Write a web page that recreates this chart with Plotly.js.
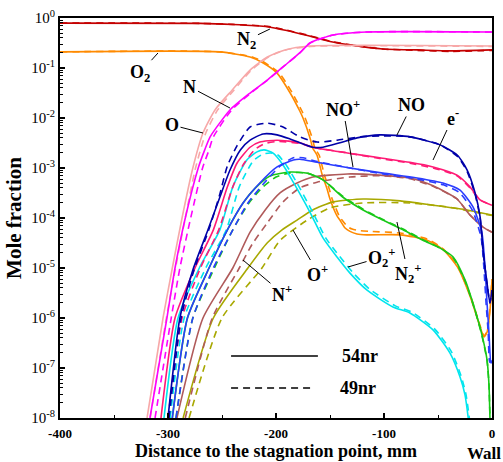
<!DOCTYPE html>
<html><head><meta charset="utf-8">
<script src="https://cdn.plot.ly/plotly-3.0.1.min.js"></script>
<style>html,body{margin:0;padding:0;background:#fff}#chart{width:503px;height:462px}</style>
</head><body><div id="chart"></div>
<script>
// ---- tick labels ----
const xTickVals = [-400, -300, -200, -100, 0];
const xTickText = ['-400', '-300', '-200', '-100', '0'];
const yTickVals = [1e-8, 1e-7, 1e-6, 1e-5, 1e-4, 1e-3, 1e-2, 1e-1, 1];
const yTickText = ['10<sup>-8</sup>','10<sup>-7</sup>','10<sup>-6</sup>','10<sup>-5</sup>','10<sup>-4</sup>','10<sup>-3</sup>','10<sup>-2</sup>','10<sup>-1</sup>','10<sup>0</sup>'];

// ---- N2 ----
const xN2_54 = [-400,-270,-240,-208,-190,-170,-150,-131.5,-101,-69,-39,0];
const yN2_54 = [0.79,0.78,0.74,0.67,0.56,0.44,0.34,0.29,0.24,0.23,0.22,0.23];
const xN2_49 = [-400,-270,-240,-208,-190,-170,-150,-131.5,-101,-69,-39,0];
const yN2_49 = [0.79,0.78,0.745,0.68,0.57,0.45,0.345,0.29,0.24,0.225,0.215,0.225];
// ---- O2 ----
const xO2_54 = [-400,-252,-224,-213,-199,-187,-178,-175,-168.5,-166,-162,-157,-153,-150,-143.5,-140.7,-136,-131.5,-125,-116,-85,-60,-45,-32,-20,-11,-7.4,-4.6,-1.9,0];
const yO2_54 = [0.21,0.21,0.166,0.13,0.079,0.032,0.0138,0.01,4e-3,2.5e-3,1.8e-3,7e-4,4e-4,2.4e-4,1.1e-4,9e-5,6.3e-5,5.4e-5,4.8e-5,4.6e-5,4.6e-5,3.6e-5,2.3e-5,1.05e-5,2.6e-6,6.6e-7,4.2e-7,5.2e-7,1.4e-6,5.8e-6];
const xO2_49 = [-400,-252,-222,-211,-197,-185,-176,-173,-166.5,-164,-160,-155,-151,-148,-141.5,-138.7,-134,-129.5,-123,-114,-85,-60,-45,-32,-20,-11,-7.4,-4.6,-1.9,0];
const yO2_49 = [0.21,0.21,0.166,0.13,0.079,0.032,0.0138,0.01,4e-3,2.5e-3,1.8e-3,7e-4,4e-4,2.4e-4,1.1e-4,9e-5,6.8e-5,6.0e-5,5.6e-5,5.4e-5,5.0e-5,3.8e-5,2.4e-5,1.1e-5,2.8e-6,7e-7,4.4e-7,5.5e-7,1.5e-6,6e-6];
// ---- N ----
const xN_54 = [-316.7,-301,-293.5,-284,-272,-266,-261,-242.6,-224,-208,-193.5,-178,-168.5,-147,-116,0];
const yN_54 = [1e-8,1e-6,1e-5,1e-4,1e-3,2.3e-3,4.2e-3,0.0145,0.0316,0.0575,0.105,0.2,0.316,0.457,0.525,0.525];
const xN_49 = [-312,-297,-289,-279,-268,-262,-258,-241,-223,-208,-193.5,-178,-168.5,-147,-116,0];
const yN_49 = [1e-8,1e-6,1e-5,1e-4,1e-3,2.3e-3,4.2e-3,0.0145,0.032,0.057,0.105,0.2,0.316,0.457,0.525,0.525];
// ---- O ----
const xO_54 = [-319.4,-304.6,-296,-287,-277,-267.6,-256.5,-240.7,-224,-208,-191.7,-168.5,0];
const yO_54 = [1e-8,1e-6,1e-5,1e-4,1e-3,5e-3,0.0145,0.036,0.091,0.166,0.23,0.275,0.275];
const xO_49 = [-316.5,-301.5,-293,-284,-274.5,-265,-254,-239,-223,-207,-191,-168,0];
const yO_49 = [1e-8,1e-6,1e-5,1e-4,1e-3,5e-3,0.0145,0.036,0.09,0.165,0.23,0.27,0.27];
// ---- NO ----
const xNO_54 = [-300,-289,-277,-263,-252,-242.6,-233,-224,-212,-199,-187,-178,-166,-156.5,-140.7,-125,-103.7,-76,-48,-32,-23,-15.7,-11,-8.3,-4.6,-1.9,0];
const yNO_54 = [1e-8,1e-6,9.1e-6,5.8e-5,2.6e-4,9.1e-4,2.3e-3,3.6e-3,4.8e-3,4.6e-3,3.8e-3,3.2e-3,2.6e-3,2.6e-3,3.2e-3,4.0e-3,4.6e-3,4.2e-3,2.9e-3,1.8e-3,9.1e-4,3.2e-4,1.05e-4,2.3e-5,5e-6,2e-6,3.6e-6];
const xNO_49 = [-299,-287.9,-276,-262,-252,-245,-236,-224,-208,-193.5,-178,-162,-143.5,-122,-101,-76,-48,-32,-23,-15.7,-11,-8.3,-4.6,-1.9,0];
const yNO_49 = [1e-8,1e-6,9e-6,6e-5,3e-4,1.1e-3,2.8e-3,6.6e-3,7.9e-3,6.6e-3,4.2e-3,3.3e-3,3.6e-3,4.2e-3,4.4e-3,4.2e-3,2.9e-3,1.7e-3,8.5e-4,3e-4,1e-4,2.2e-5,4.8e-6,2e-6,3.6e-6];
// ---- e- ----
const xE_54 = [-306.5,-293.5,-275,-258,-245,-236,-224,-215,-199,-178,-166,-134,-104,-76,-54.6,-32.4,-20.4,-11,0];
const yE_54 = [1e-8,1e-6,1e-5,5.8e-5,4.2e-4,1.26e-3,2.6e-3,3.3e-3,3.6e-3,3.2e-3,2.6e-3,2.0e-3,1.6e-3,1.3e-3,1.05e-3,7.2e-4,4.2e-4,2.3e-4,1.8e-4];
const xE_49 = [-300,-287,-270,-253,-240,-230,-219,-210,-197,-178,-166,-134,-104,-76,-54.6,-32.4,-20.4,-11,0];
const yE_49 = [1e-8,1e-6,1e-5,5.8e-5,4.2e-4,1.2e-3,2.4e-3,3.1e-3,3.4e-3,3.1e-3,2.6e-3,2.0e-3,1.55e-3,1.25e-3,1.0e-3,7.0e-4,4.0e-4,2.3e-4,1.8e-4];
// ---- O2+ ----
const xO2p_54 = [-303.7,-290.7,-271,-252,-240,-227,-217.6,-211,-203,-193.5,-184,-168.5,-156.5,-143.5,-131.5,-115.7,-91.7,-76,-54.6,-39,-29.6,-25,-22];
const yO2p_54 = [1e-8,1e-6,1e-5,5.8e-5,4.2e-4,1.45e-3,2.1e-3,2.3e-3,2.0e-3,1.15e-3,5.2e-4,1.3e-4,4.0e-5,1.66e-5,7.9e-6,3.6e-6,1.66e-6,1.26e-6,5.8e-7,2.0e-7,6.6e-8,2.9e-8,1e-8];
const xO2p_49 = [-298,-285,-265,-246,-234,-221,-212,-205,-198,-190,-181,-166,-154,-141,-129,-113.5,-89.5,-74,-53,-37.5,-28.5,-24,-21];
const yO2p_49 = [1e-8,1e-6,1e-5,5.8e-5,4.2e-4,1.4e-3,1.9e-3,2.0e-3,1.8e-3,1.1e-3,5.2e-4,1.3e-4,4.0e-5,1.7e-5,8.2e-6,3.8e-6,1.75e-6,1.3e-6,6e-7,2.1e-7,6.8e-8,2.9e-8,1e-8];
// ---- NO+ ----
const xNOp_54 = [-296,-282,-262,-245,-230.5,-215,-199,-184,-178,-162,-131.5,-101,-69.4,-45.4,-29.6,-17.6,-9.3,-6.5,-4.6,-2.8,-0.9,0];
const yNOp_54 = [1e-8,1e-6,1e-5,5.8e-5,2.0e-4,5.0e-4,1.05e-3,1.45e-3,1.5e-3,1.3e-3,1.0e-3,7.9e-4,6.3e-4,5.0e-4,3.6e-4,1.66e-4,5e-5,1.05e-5,2e-6,5e-7,1.26e-7,1.3e-7];
const xNOp_49 = [-292.6,-277,-258,-240,-226,-211,-196,-184,-175,-162,-131.5,-101,-69,-45,-30,-18,-10,-7.5,-5.5,-3.5,-2,0];
const yNOp_49 = [1e-8,1e-6,1e-5,5.8e-5,2.0e-4,5.0e-4,1.1e-3,1.6e-3,1.6e-3,1.35e-3,1.0e-3,7.6e-4,6.0e-4,4.6e-4,3.2e-4,1.4e-4,4e-5,1e-5,2e-6,5e-7,1.3e-7,1.4e-7];
// ---- N2+ ----
const xN2p_54 = [-296,-282,-262,-245,-230.5,-219,-205.6,-187,-171,-156.5,-138,-119.4,-101,-82.4,-64,-48,-36,-25,-15.7,-9.3,-4.6,-2.8,-1.9];
const yN2p_54 = [1e-8,1e-6,1e-5,5.8e-5,2.0e-4,4.0e-4,6.9e-4,8.3e-4,7.9e-4,5.8e-4,2.6e-4,1.45e-4,9.1e-5,5.8e-5,3.6e-5,2.5e-5,1.66e-5,5.8e-6,1.45e-6,4.6e-7,1.45e-7,4.6e-8,1e-8];
const xN2p_49 = [-292.6,-277,-257,-240,-225,-212,-200,-187,-171,-156.5,-138,-119.4,-101,-82.4,-64,-48,-36,-25,-15.7,-9.3,-4.6,-2.8,-1.9];
const yN2p_49 = [1e-8,1e-6,1e-5,5.8e-5,2.0e-4,4.2e-4,6.6e-4,8.0e-4,7.9e-4,5.8e-4,2.7e-4,1.5e-4,9.3e-5,6.0e-5,3.7e-5,2.5e-5,1.6e-5,5.5e-6,1.4e-6,4.4e-7,1.4e-7,4.5e-8,1e-8];
// ---- N+ ----
const xNp_54 = [-291.7,-267.6,-240,-224,-210,-196,-180.5,-166,-134,-104,-76,-54.6,-32.4,-20.4,-8.3,0];
const yNp_54 = [1e-8,1e-6,1e-5,5.2e-5,1.45e-4,3.2e-4,5.0e-4,6.6e-4,7.6e-4,7.2e-4,6.3e-4,4.4e-4,2.4e-4,1.15e-4,6.6e-5,5.2e-5];
const xNp_49 = [-284,-259,-234,-222,-208,-193.5,-178,-162,-131.5,-104,-76,-54.6,-32.4,-20.4,-8.3,0];
const yNp_49 = [1e-8,1e-6,1e-5,3e-5,8e-5,2.1e-4,4e-4,5.2e-4,6.6e-4,7e-4,6.1e-4,4.3e-4,2.4e-4,1.15e-4,6.6e-5,5.2e-5];
// ---- O+ ----
const xOp_54 = [-286,-258,-226,-208,-194.4,-180.5,-166,-147,-119.4,-85,-54.6,-23,0];
const yOp_54 = [1e-8,1e-6,1e-5,3.2e-5,5.8e-5,9.1e-5,1.45e-4,2.1e-4,2.4e-4,2.2e-4,1.8e-4,1.45e-4,1.15e-4];
const xOp_49 = [-280.5,-250,-213,-196,-171,-150,-119,-76,-40,-23,0];
const yOp_49 = [1e-8,1e-6,1e-5,3.6e-5,9.1e-5,1.6e-4,2.0e-4,2.0e-4,1.65e-4,1.4e-4,1.12e-4];

const species = [
  {name:'N<sub>2</sub>', color:'#c40000', s:[xN2_54,yN2_54], d:[xN2_49,yN2_49]},
  {name:'O<sub>2</sub>', color:'#ff8a00', s:[xO2_54,yO2_54], d:[xO2_49,yO2_49]},
  {name:'O', color:'#f7a8a8', s:[xO_54,yO_54], d:[xO_49,yO_49]},
  {name:'N', color:'#ff00ff', s:[xN_54,yN_54], d:[xN_49,yN_49]},
  {name:'O<sup>+</sup>', color:'#a8a800', s:[xOp_54,yOp_54], d:[xOp_49,yOp_49]},
  {name:'N<sup>+</sup>', color:'#b05a5a', s:[xNp_54,yNp_54], d:[xNp_49,yNp_49]},
  {name:'N<sub>2</sub><sup>+</sup>', color:'#18c818', s:[xN2p_54,yN2p_54], d:[xN2p_49,yN2p_49]},
  {name:'O<sub>2</sub><sup>+</sup>', color:'#00e5ee', s:[xO2p_54,yO2p_54], d:[xO2p_49,yO2p_49]},
  {name:'NO<sup>+</sup>', color:'#2a3cff', s:[xNOp_54,yNOp_54], d:[xNOp_49,yNOp_49]},
  {name:'e<sup>-</sup>', color:'#ff1a75', s:[xE_54,yE_54], d:[xE_49,yE_49]},
  {name:'NO', color:'#0000a8', s:[xNO_54,yNO_54], d:[xNO_49,yNO_49]}
];

const traces = [];
species.forEach(sp => {
  traces.push({x:sp.d[0], y:sp.d[1], mode:'lines', name:sp.name+' 49nr', line:{color:sp.color, width:1.6, dash:'7px,5px', shape:'spline', smoothing:0.6}});
  traces.push({x:sp.s[0], y:sp.s[1], mode:'lines', name:sp.name+' 54nr', line:{color:sp.color, width:1.6, shape:'spline', smoothing:0.6}});
});

const F = 'Liberation Serif, Times New Roman, serif';
function lab(text, x, ly, ax, ay){
  return {x:x, y:ly, xref:'x', yref:'y', text:'<b>'+text+'</b>', showarrow:true, arrowhead:0, arrowwidth:1, arrowcolor:'#000', ax:ax, ay:ay, font:{family:F, size:18, color:'#000'}};
}
const annotations = [
  lab('N<sub>2</sub>', -205.6, -0.22, -23, 11),
  lab('O<sub>2</sub>', -309.3, -0.70, -18, 20),
  lab('N', -242.6, -1.80, -40, -21),
  lab('O', -267.6, -2.30, -31, -8),
  lab('NO<sup>+</sup>', -128.7, -2.98, -10, -59),
  lab('NO', -88, -2.34, 15, -30),
  lab('e<sup>-</sup>', -54.6, -2.84, 20, -43),
  lab('N<sup>+</sup>', -230.6, -4.84, 39, 33),
  lab('O<sup>+</sup>', -184.3, -4.24, 25, 43),
  lab('O<sub>2</sub><sup>+</sup>', -133.3, -4.98, 34, -10),
  lab('N<sub>2</sub><sup>+</sup>', -88, -4.08, 11, 51),
  {x:0.694, y:0.155, xref:'paper', yref:'paper', xanchor:'center', yanchor:'middle', text:'<b>54nr</b>', showarrow:false, font:{family:F, size:18, color:'#000'}},
  {x:0.690, y:0.075, xref:'paper', yref:'paper', xanchor:'center', yanchor:'middle', text:'<b>49nr</b>', showarrow:false, font:{family:F, size:18, color:'#000'}},
  {x:0, y:0, xref:'x', yref:'paper', yshift:-35, xshift:-8, xanchor:'center', yanchor:'middle', text:'<b>Wall</b>', showarrow:false, font:{family:F, size:17, color:'#000'}}
];
const shapes = [
  {type:'line', xref:'paper', yref:'paper', x0:0.396, x1:0.597, y0:0.155, y1:0.155, line:{color:'#000', width:1.6}},
  {type:'line', xref:'paper', yref:'paper', x0:0.396, x1:0.579, y0:0.075, y1:0.075, line:{color:'#000', width:1.6, dash:'7px,5px'}}
];

const layout = {
  width:503, height:462,
  margin:{l:60, r:11, t:18, b:44},
  paper_bgcolor:'#fff', plot_bgcolor:'#fff',
  showlegend:false,
  font:{family:F, color:'#000'},
  xaxis:{range:[-400,0], tickmode:'array', tickvals:xTickVals, ticktext:xTickText,
    ticks:'inside', ticklen:5, tickwidth:1.5, tickcolor:'#000', ticklabelstandoff:2,
    showline:true, linewidth:2, linecolor:'#000', mirror:true, showgrid:false, zeroline:false,
    minor:{dtick:50, tick0:-400, ticks:'inside', ticklen:3, tickcolor:'#000', tickwidth:1},
    tickfont:{family:F, size:13, weight:'bold'},
    title:{text:'Distance to the stagnation point, mm', font:{family:F, size:18, weight:'bold'}, standoff:2},
    automargin:false},
  yaxis:{type:'log', range:[-8,0], tickmode:'array', tickvals:yTickVals, ticktext:yTickText,
    ticks:'inside', ticklen:5, tickwidth:1.5, tickcolor:'#000',
    showline:true, linewidth:2, linecolor:'#000', mirror:true, showgrid:false, zeroline:false,
    minor:{dtick:'D1', ticks:'inside', ticklen:3, tickcolor:'#000', tickwidth:1},
    tickfont:{family:F, size:15},
    title:{text:'Mole fraction', font:{family:F, size:21, weight:'bold'}, standoff:4},
    automargin:false},
  annotations:annotations,
  shapes:shapes
};

Plotly.newPlot('chart', traces, layout, {staticPlot:true, displayModeBar:false});
</script></body></html>
